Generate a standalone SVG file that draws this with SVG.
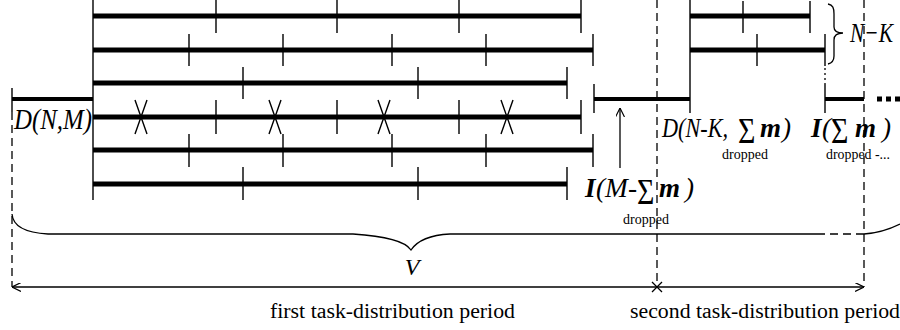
<svg xmlns="http://www.w3.org/2000/svg" width="900" height="330" viewBox="0 0 900 330">
  <style>
    .bar { stroke: #000; stroke-width: 5; fill: none; }
    .tick { stroke: #000; stroke-width: 1.4; fill: none; }
    .dash { stroke: #000; stroke-width: 1.3; stroke-dasharray: 8 5; fill: none; }
    .thin { stroke: #000; stroke-width: 1.3; fill: none; }
    .lbl { font-family: "Liberation Serif", "Times New Roman", serif; fill: #000; }
    .it { font-style: italic; }
    .bi { font-style: italic; font-weight: bold; }
    .sig { font-family: "Liberation Serif", "Times New Roman", serif; font-size: 26px; fill: #000; }
  </style>
  <defs>
    <marker id="open" viewBox="0 0 10 10" refX="10" refY="5" markerWidth="9" markerHeight="9" markerUnits="userSpaceOnUse" orient="auto-start-reverse">
      <path d="M0,0 L10,5 L0,10" fill="none" stroke="#000" stroke-width="1.3"/>
    </marker>
  </defs>
  <rect width="900" height="330" fill="#fff"/>

  <!-- connectors, dividers and braces -->
  <g id="connectors">
    <line class="dash" x1="12" y1="112" x2="12" y2="287"/>
    <line class="dash" x1="657" y1="0" x2="657" y2="287"/>
    <line class="dash" x1="864" y1="0" x2="864" y2="287"/>
    <line class="tick" x1="93" y1="0" x2="93" y2="200"/>
    <line class="tick" x1="690" y1="0" x2="690" y2="113"/>
    <!-- pointer to the idle interval -->
    <line class="thin" x1="620" y1="168" x2="620" y2="108" marker-end="url(#open)"/>
    <!-- time axis -->
    <line class="thin" x1="657" y1="287" x2="12" y2="287" marker-end="url(#open)"/>
    <line class="thin" x1="657" y1="287" x2="864" y2="287" marker-end="url(#open)"/>
    <path class="thin" d="M652,282 L662,292 M662,282 L652,292"/>
    <!-- brace V -->
    <path class="thin" d="M12,214 C13,228 30,233 48,234 L353,234 C385,236 405,241 411,250 C417,241 430,235 450,234 L817,234"/>
    <line class="dash" x1="817" y1="234" x2="864" y2="234"/>
    <path class="thin" d="M864,234 C878,233 890,229 900,224"/>
    <!-- brace N-K -->
    <path class="thin" d="M828,4 C833,5 834,8 834,14 L834,27 C834,31 838,33 843,33 C838,33 834,35 834,40 L834,56 C834,61 832,63 828,64"/>
    <!-- dotted continuation -->
    <line class="thin" x1="825" y1="68" x2="825" y2="84" stroke-dasharray="2 3"/>
  </g>

  <!-- task bars of the first period -->
  <g id="row1">
    <line class="bar" x1="93" y1="16" x2="581" y2="16"/>
    <path class="tick" d="M216,0V33 M337,0V33 M459,0V33 M581,0V33"/>
  </g>
  <g id="row2">
    <line class="bar" x1="93" y1="50" x2="593" y2="50"/>
    <path class="tick" d="M189,34V66 M283,34V66 M392,34V66 M486,34V66 M593,34V66"/>
  </g>
  <g id="row3">
    <line class="bar" x1="93" y1="83" x2="567" y2="83"/>
    <path class="tick" d="M243,67V99 M418,67V99 M567,67V99"/>
  </g>
  <g id="row4">
    <line class="bar" x1="93" y1="117" x2="581" y2="117"/>
    <path class="tick" d="M216,100V134 M337,100V134 M459,100V134 M581,100V134"/>
    <path class="tick" d="M135,100L147,134 M147,100L135,134 M269,100L281,134 M281,100L269,134 M378,100L390,134 M390,100L378,134 M501,100L513,134 M513,100L501,134"/>
  </g>
  <g id="row5">
    <line class="bar" x1="93" y1="150" x2="593" y2="150"/>
    <path class="tick" d="M189,134V167 M283,134V167 M392,134V167 M486,134V167 M593,134V167"/>
  </g>
  <g id="row6">
    <line class="bar" x1="93" y1="184" x2="567" y2="184"/>
    <path class="tick" d="M243,167V200 M418,167V200 M567,167V200"/>
  </g>

  <!-- distribution interval D(N,M) -->
  <g id="dNM">
    <line class="bar" x1="12" y1="99" x2="93" y2="99" style="stroke-width:4"/>
    <line class="tick" x1="12" y1="88" x2="12" y2="112"/>
    <text class="lbl it" x="14" y="129" font-size="30" textLength="78" lengthAdjust="spacingAndGlyphs">D(N,M)</text>
  </g>

  <!-- idle + redistribution interval -->
  <g id="mid">
    <line class="bar" x1="594" y1="99" x2="690" y2="99" style="stroke-width:4"/>
    <line class="tick" x1="594" y1="84" x2="594" y2="113"/>
  </g>

  <!-- second period bars -->
  <g id="row2a">
    <line class="bar" x1="690" y1="16" x2="810" y2="16"/>
    <path class="tick" d="M743,1V33 M810,1V33"/>
  </g>
  <g id="row2b">
    <line class="bar" x1="690" y1="50" x2="825" y2="50"/>
    <path class="tick" d="M757,34V66 M825,34V66"/>
  </g>
  <g id="idle2">
    <line class="bar" x1="825" y1="99" x2="864" y2="99" style="stroke-width:4"/>
    <line class="tick" x1="825" y1="84" x2="825" y2="113"/>
    <line class="bar" x1="877" y1="99" x2="900" y2="99" style="stroke-dasharray:5 4"/>
  </g>

  <!-- labels -->
  <g id="labels">
    <text class="lbl it" x="850" y="42" font-size="28" textLength="43" lengthAdjust="spacingAndGlyphs">N−K</text>

    <!-- D(N-K, sum m) -->
    <text class="lbl it" x="662" y="137" font-size="27" textLength="66" lengthAdjust="spacingAndGlyphs">D(N-K,</text>
    <text class="sig" transform="translate(738,143) scale(1.15,1.4)">Σ</text>
    <text class="lbl bi" x="760" y="137" font-size="27">m</text>
    <text class="lbl it" x="782" y="137" font-size="27">)</text>
    <text class="lbl" x="722" y="159" font-size="14">dropped</text>

    <!-- I(sum m) -->
    <text class="lbl bi" x="811" y="137" font-size="27">I</text>
    <text class="lbl it" x="822" y="137" font-size="27">(</text>
    <text class="sig" transform="translate(831,143) scale(1.15,1.4)">Σ</text>
    <text class="lbl bi" x="855" y="137" font-size="27">m</text>
    <text class="lbl it" x="882" y="137" font-size="27">)</text>
    <text class="lbl" x="826" y="159" font-size="14" textLength="64" lengthAdjust="spacingAndGlyphs">dropped -...</text>

    <!-- I(M - sum m) -->
    <text class="lbl bi" x="585" y="197" font-size="27">I</text>
    <text class="lbl it" x="596" y="197" font-size="27" textLength="41" lengthAdjust="spacingAndGlyphs">(M-</text>
    <text class="sig" transform="translate(637,204) scale(1.15,1.4)">Σ</text>
    <text class="lbl bi" x="659" y="197" font-size="27">m</text>
    <text class="lbl it" x="685" y="197" font-size="27">)</text>
    <text class="lbl" x="623" y="224" font-size="14">dropped</text>

    <text class="lbl it" x="412" y="275" font-size="24" text-anchor="middle">V</text>
    <text class="lbl" x="270" y="318" font-size="20" textLength="245" lengthAdjust="spacingAndGlyphs">first task-distribution period</text>
    <text class="lbl" x="630" y="318" font-size="20" textLength="270" lengthAdjust="spacingAndGlyphs">second task-distribution period</text>
  </g>
</svg>
